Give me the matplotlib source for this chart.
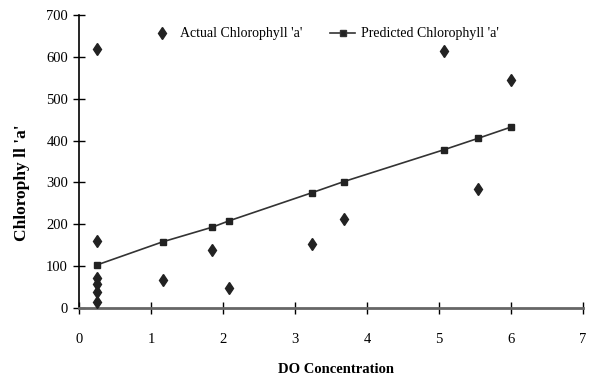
import matplotlib
matplotlib.use("Agg")
import matplotlib.pyplot as plt
from matplotlib.lines import Line2D

actual_x = [0.25, 0.25, 0.25, 0.25, 0.25, 0.25, 1.16, 1.85, 2.08, 3.23, 3.68, 5.07, 5.54, 6.0]
actual_y = [619, 161, 72, 57, 37, 14, 67, 139, 47, 154, 212, 615, 284, 544]

pred_x = [0.25, 1.16, 1.85, 2.08, 3.23, 3.68, 5.07, 5.54, 6.0]
pred_y = [103, 158, 193, 208, 275, 302, 378, 405, 432]

x_ticks = [0, 1, 2, 3, 4, 5, 6, 7]
y_ticks = [0, 100, 200, 300, 400, 500, 600, 700]

plt.rcParams['font.family'] = ['Liberation Serif', 'DejaVu Serif']

fig = plt.figure(figsize=(5.91, 3.84), dpi=100)
ax = fig.add_axes([0.134, 0.198, 0.852, 0.763])

ax.plot(pred_x, pred_y, color='#333333', linewidth=1.2, marker='s', markersize=4.3,
        markerfacecolor='#222222', markeredgecolor='#222222', zorder=3)
ax.plot(actual_x, actual_y, linestyle='none', marker='d', markersize=6.5,
        markerfacecolor='#222222', markeredgecolor='#222222', zorder=4)

ax.set_xlim(0, 7)
ax.set_ylim(0, 700)
ax.set_xticks(x_ticks)
ax.set_yticks(y_ticks)
ax.tick_params(axis='both', direction='inout', length=8, width=1, labelsize=10.5, color='black')
ax.tick_params(axis='x', pad=14)
ax.tick_params(axis='y', pad=4)

for s in ['top', 'right']:
    ax.spines[s].set_visible(False)
ax.spines['left'].set_color('black')
ax.spines['left'].set_linewidth(1.2)
ax.spines['bottom'].set_color('#666666')
ax.spines['bottom'].set_linewidth(2)

ax.set_xlabel('DO Concentration', fontsize=10.5, fontweight='bold', va='center')
ax.xaxis.set_label_coords(0.51, -0.21)
ax.set_ylabel("Chlorophy ll 'a'", fontsize=12.5, fontweight='bold', va='center')
ax.yaxis.set_label_coords(-0.113, 0.427)

handles = [
    Line2D([], [], linestyle='none', marker='d', markersize=6, color='#222222'),
    Line2D([], [], color='#333333', linewidth=1.2, marker='s', markersize=4, markerfacecolor='#222222'),
]
ax.legend(handles, ["Actual Chlorophyll 'a'", "Predicted Chlorophyll 'a'"], ncol=2, frameon=False,
          loc='upper left', bbox_to_anchor=(0.115, 1.0), fontsize=10, handlelength=1.8,
          columnspacing=2.0, handletextpad=0.4)

fig.savefig('out.png', dpi=100)
